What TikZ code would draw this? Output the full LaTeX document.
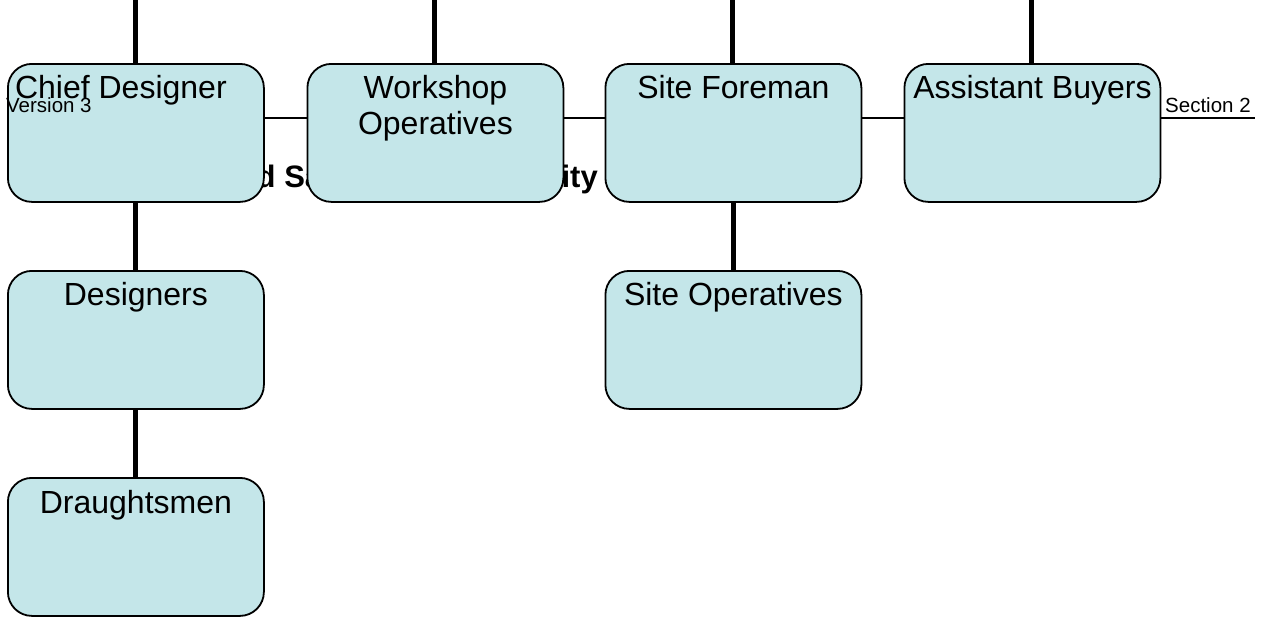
\documentclass[tikz,border=0pt]{standalone}
\usepackage{fontspec}
\setmainfont{Liberation Sans}
\begin{document}
\begin{tikzpicture}[x=1pt,y=-1pt,
  box/.style={draw=black, line width=1.8pt, fill=boxfill, rounded corners=24pt,
    minimum width=256pt, minimum height=138pt, inner sep=0pt, anchor=north west},
  lbl/.style={font=\fontsize{32}{36}\selectfont, inner sep=0pt, anchor=base, align=center},
  small/.style={font=\fontsize{20.5}{24}\selectfont, inner sep=0pt, anchor=base west},
  thick line/.style={line width=5pt},
  thin line/.style={line width=1.5pt}]
\definecolor{boxfill}{RGB}{196,230,233}
\useasboundingbox (0,0) rectangle (1265,618);
% coordinates
\coordinate (lineend) at (1255,118);
\coordinate (lineStart) at (10,118);
\coordinate (top1) at (135,0);
\coordinate (top2) at (434.5,0);
\coordinate (top3) at (732.5,0);
\coordinate (top4) at (1031.5,0);
% horizontal line (behind)
\draw[thin line] (lineStart) -- (lineend);
% bold title (behind boxes)
\node[font=\bfseries\fontsize{31}{36}\selectfont, inner sep=0pt, anchor=base east] (title) at (598,187) {Health and Safety Responsibility};
% thick connectors
\draw[thick line] (top1) -- (135,63);
\draw[thick line] (top2) -- (434.5,63);
\draw[thick line] (top3) -- (732.5,63);
\draw[thick line] (top4) -- (1031.5,63);
% boxes
\node[box] (chief) at (7,63) {};
\node[box] (workshop) at (306.5,63) {};
\node[box] (foreman) at (604.5,63) {};
\node[box] (buyers) at (903.5,63) {};
\node[box] (designers) at (7,270) {};
\node[box] (siteops) at (604.5,270) {};
\node[box] (draught) at (7,477) {};
\draw[thick line] (chief.south) -- (designers.north);
\draw[thick line] (designers.south) -- (draught.north);
\draw[thick line] (foreman.south) -- (siteops.north);
% labels
\node[lbl] (tchief) at ([xshift=-15pt,yshift=-35pt]chief.north) {Chief Designer};
\node[lbl] (twork1) at ([yshift=-35pt]workshop.north) {Workshop};
\node[lbl] (twork2) at ([yshift=-71pt]workshop.north) {Operatives};
\node[lbl] (tfore) at ([yshift=-35pt]foreman.north) {Site Foreman};
\node[lbl] (tbuy) at ([yshift=-35pt]buyers.north) {Assistant Buyers};
\node[lbl] (tdes) at ([yshift=-35pt]designers.north) {Designers};
\node[lbl] (tsite) at ([yshift=-35pt]siteops.north) {Site Operatives};
\node[lbl] (tdra) at ([yshift=-36pt]draught.north) {Draughtsmen};
% small texts
\node[small] (version) at (6,112) {Version 3};
\node[small] (section) at (1165,112) {Section 2};
\end{tikzpicture}
\end{document}
